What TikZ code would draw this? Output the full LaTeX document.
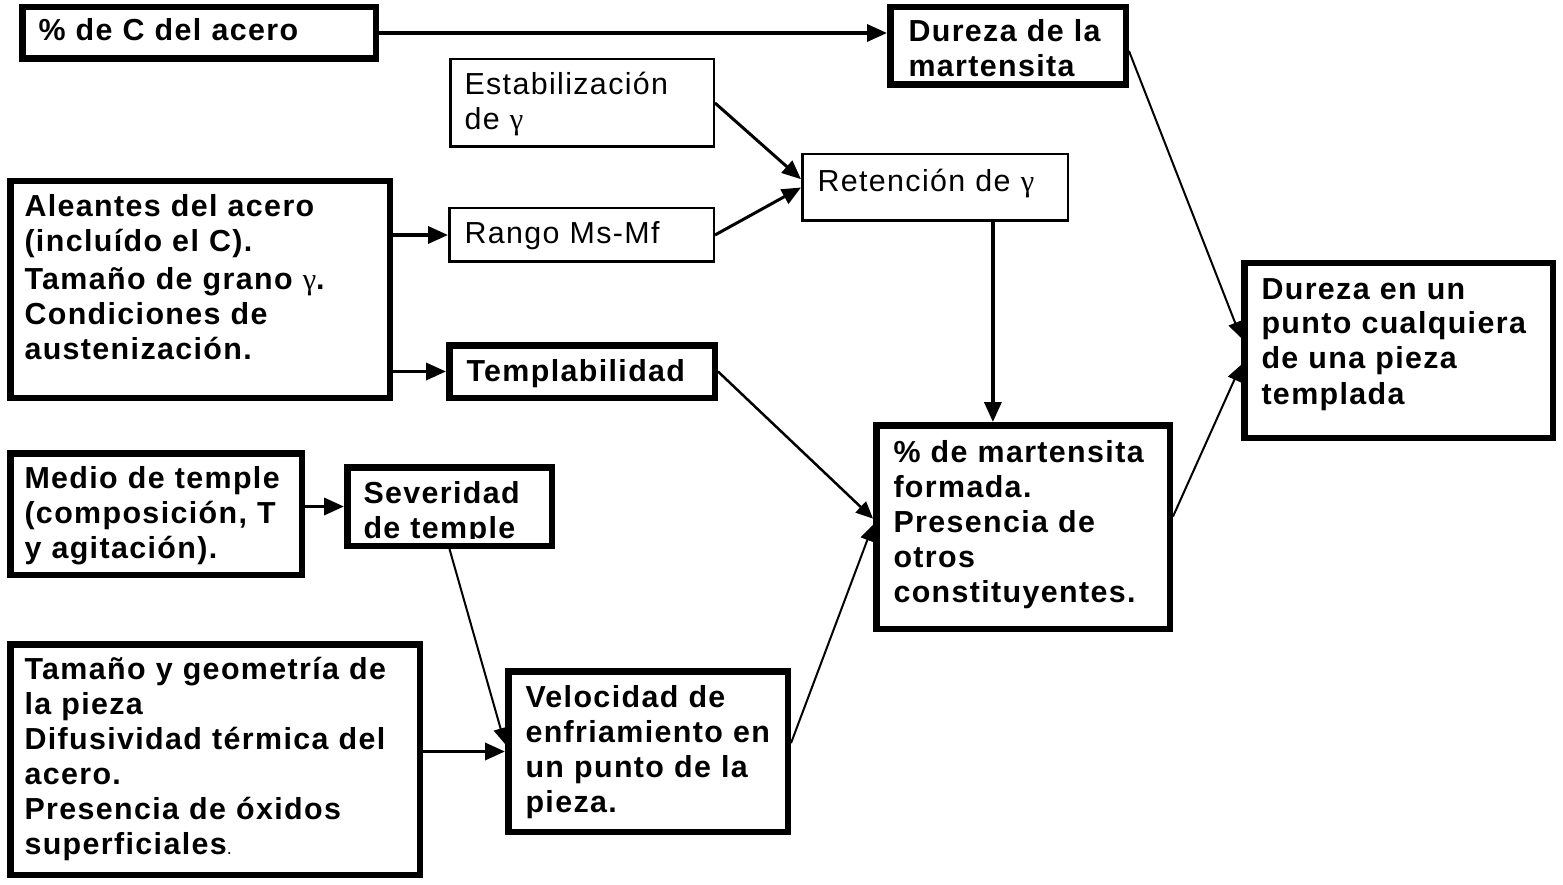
\documentclass[tikz,border=0pt]{standalone}
\usepackage{fontspec}
\setmainfont{Liberation Sans}[LetterSpace=4.5]
\newfontfamily\grk{Liberation Serif}
\usetikzlibrary{calc,arrows.meta}
\newcommand{\gam}{{\grk\mdseries γ}}
\tikzset{
  boxthick/.style={draw, line width=6.5pt, outer sep=3.25pt, inner ysep=0pt, align=left, anchor=north west, font={\fontsize{30.4}{35}\selectfont\bfseries}},
  boxthin/.style={draw, line width=2.5pt, outer sep=1.25pt, inner ysep=0pt, align=left, anchor=north west, font={\fontsize{30.4}{35}\selectfont}},
  conA/.style={line width=3.5pt, -{Triangle[length=20pt,width=17pt]}},
  conB/.style={line width=3pt, -{Triangle[length=19pt,width=16pt]}},
  conC/.style={line width=2.5pt, -{Triangle[length=17pt,width=15pt]}},
  conD/.style={line width=2pt, -{Triangle[length=16pt,width=14pt]}},
}
\begin{document}
\begin{tikzpicture}[x=1pt,y=-1pt]
\useasboundingbox (0,0) rectangle (1563,885);

\node[boxthick, minimum width=353.5pt, minimum height=51.5pt, inner xsep=16.25pt, text width=321pt, text height=33.75pt, text depth=17.75pt] (Ca) at (19,4) {\% de C del acero};

\node[boxthick, minimum width=235.5pt, minimum height=77.5pt, inner xsep=18.25pt, text width=199pt, text height=34.75pt, text depth=42.75pt] (DM) at (887,4) {Dureza de la\\martensita};

\node[boxthin, minimum width=263.5pt, minimum height=87.5pt, inner xsep=14.25pt, text width=235pt, text height=35.75pt, text depth=51.75pt] (Est) at (449,58) {Estabilización\\de \gam};

\node[boxthin, minimum width=265.5pt, minimum height=66.5pt, inner xsep=15.25pt, text width=235pt, text height=37.75pt, text depth=28.75pt] (Ret) at (801,153) {Retención de \gam};

\node[boxthick, minimum width=379.5pt, minimum height=216.5pt, inner xsep=14.25pt, text width=351pt, text height=35.75pt, text depth=180.75pt] (Ale) at (7,178) {Aleantes del acero\\(incluído el C).\\[3pt]Tamaño de grano \gam.\\Condiciones de\\austenización.};

\node[boxthin, minimum width=264.5pt, minimum height=53.5pt, inner xsep=15.25pt, text width=234pt, text height=35.75pt, text depth=17.75pt] (Rango) at (448,207) {Rango Ms-Mf};

\node[boxthick, minimum width=265.5pt, minimum height=52.5pt, inner xsep=17.25pt, text width=231pt, text height=35.75pt, text depth=16.75pt] (Templ) at (446,342) {Templabilidad};

\node[boxthick, minimum width=291.5pt, minimum height=121.5pt, inner xsep=14.25pt, text width=263pt, text height=34.75pt, text depth=86.75pt] (Medio) at (7,450) {Medio de temple\\(composición, T\\y agitación).};

\node[boxthick, minimum width=204.5pt, minimum height=78.5pt, inner xsep=16.25pt, text width=172pt, text height=35.75pt, text depth=42.75pt] (Sev) at (344,464) {Severidad\\de temple};
\fill[white] (350.5,539) rectangle (548,542.6);

\node[boxthick, minimum width=293.5pt, minimum height=203.5pt, inner xsep=17.25pt, text width=259pt, text height=36.75pt, text depth=166.75pt] (PM) at (873,422) {\% de martensita\\formada.\\Presencia de\\otros\\constituyentes.};

\node[boxthick, minimum width=308.5pt, minimum height=174.5pt, inner xsep=17.25pt, text width=274pt, text height=35.75pt, text depth=138.75pt] (DP) at (1241,260) {Dureza en un\\punto cualquiera\\de una pieza\\templada};

\node[boxthick, minimum width=409.5pt, minimum height=230.5pt, inner xsep=14.25pt, text width=381pt, text height=34.75pt, text depth=195.75pt] (Tam) at (7,641) {Tamaño y geometría de\\la pieza\\Difusividad térmica del\\acero.\\Presencia de óxidos\\superficiales{\mdseries\fontsize{18}{18}\selectfont.}};

\node[boxthick, minimum width=279.5pt, minimum height=160.5pt, inner xsep=17.25pt, text width=245pt, text height=35.75pt, text depth=124.75pt] (Vel) at (505,668) {Velocidad de\\enfriamiento en\\un punto de la\\pieza.};

% connectors
\draw[conA] (Ca.east) -- (Ca.east -| DM.west);
\draw[conB] (Est.east) -- ($(Ret.north west)!0.38!(Ret.south west)$);
\draw[conB] (Rango.east) -- ($(Ret.north west)!0.5!(Ret.south west)$);
\draw[conA] (Ale.east |- Rango.west) -- (Rango.west);
\draw[conA] (Ale.east |- Templ.west) -- (Templ.west);
\draw[conC] (Templ.east) -- ($(PM.north west)!0.46!(PM.south west)$);
\draw[conA] ($(Ret.south west)!0.716!(Ret.south east)$) coordinate (rs) -- (rs |- PM.north);
\draw[conA] (Medio.east |- Sev.west) -- (Sev.west);
\draw[conD] (Sev.south) -- ($(Vel.north west)!0.455!(Vel.south west)$);
\draw[conA] (Tam.east |- Vel.west) -- (Vel.west);
\draw[conD] ($(Vel.north east)!0.45!(Vel.south east)$) -- ($(PM.north west)!0.49!(PM.south west)$);
\draw[conD] ($(PM.north east)!0.45!(PM.south east)$) -- ($(DP.north west)!0.58!(DP.south west)$);
\draw[conD] ($(DM.north east)!0.56!(DM.south east)$) -- ($(DP.north west)!0.43!(DP.south west)$);
\end{tikzpicture}
\end{document}
